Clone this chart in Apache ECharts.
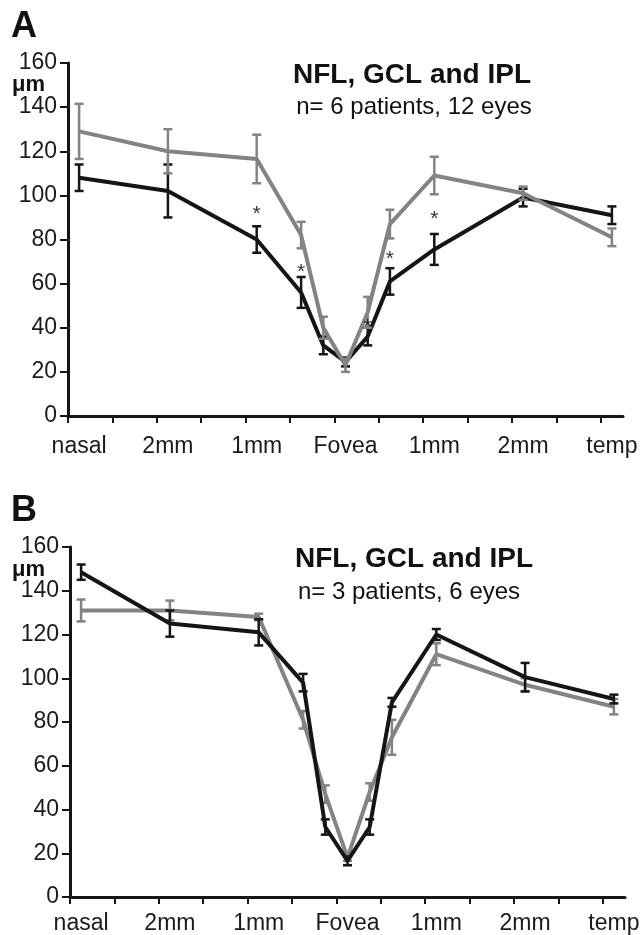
<!DOCTYPE html>
<html>
<head>
<meta charset="utf-8">
<script src="https://cdn.jsdelivr.net/npm/echarts@6/dist/echarts.min.js"></script>
<style>
  html, body { margin: 0; padding: 0; background: #fff; }
  #chart { width: 643px; height: 935px; }
</style>
</head>
<body>
<div id="chart"></div>
<script>
// x positions of the measurement points (in axis steps, nasal = 0, fovea = 6, temp = 12)
const positions = [0, 2, 4, 5, 5.5, 6, 6.5, 7, 8, 10, 12]
const labelPositions = [0, 2, 4, 6, 8, 10, 12]
const labelNames = ['nasal', '2mm', '1mm', 'Fovea', '1mm', '2mm', 'temp']

// panel A: n= 6 patients, 12 eyes
const aBlack = [108, 102, 80, 56, 32, 24.5, 36, 61, 75.5, 99, 91]
const aBlackErr = [6, 12, 6, 7, 4, 2, 4, 6, 7, 4, 4]
const aGray = [129, 120, 116.5, 82, 40, 23, 47, 87, 109, 101, 81]
const aGrayErr = [12.5, 10, 11, 6, 5, 3, 7, 6.5, 8.5, 3, 4]
const aStarIdx = [2, 3, 6, 7, 8]
const aStarY = [94, 68, 43, 74, 92]

// panel B: n= 3 patients, 6 eyes
const bBlack = [148.5, 125, 121, 98, 32, 16.5, 32, 89, 120, 100.5, 90.5]
const bBlackErr = [3.5, 6, 6, 4, 3.5, 2, 3.5, 2, 2.5, 6.5, 2]
const bGray = [131, 131, 128, 81, 47, 18, 48, 73, 111, 97, 87]
const bGrayErr = [5, 4.5, 1.5, 4, 4, 1.5, 4, 8, 5, 3, 3.5]

const BLACK = '#151515'
const GRAY = '#838383'
const FONT = '"Liberation Sans", Arial, sans-serif'

const chart = echarts.init(document.getElementById('chart'))

const tickPositions = Array.from({ length: 13 }, (_, k) => k - 0.25)

const errorBar = (color) => (params, api) => {
  const x = api.value(0)
  const y = api.value(1)
  const e = api.value(2)
  const top = api.coord([x, y + e])
  const bot = api.coord([x, y - e])
  const half = 4.5
  const style = { stroke: color, lineWidth: 2.5, fill: null }
  return {
    type: 'group',
    children: [
      { type: 'line', shape: { x1: top[0], y1: top[1], x2: bot[0], y2: bot[1] }, style },
      { type: 'line', shape: { x1: top[0] - half, y1: top[1], x2: top[0] + half, y2: top[1] }, style },
      { type: 'line', shape: { x1: bot[0] - half, y1: bot[1], x2: bot[0] + half, y2: bot[1] }, style }
    ]
  }
}

const makeXAxis = (gridIndex, margin) => ({
  type: 'value',
  gridIndex,
  min: -0.25,
  max: 12.25,
  splitLine: { show: false },
  axisLine: { onZero: false, lineStyle: { color: BLACK, width: 3 } },
  axisTick: { show: true, length: 7, lineStyle: { color: BLACK, width: 2 }, customValues: tickPositions },
  axisLabel: {
    customValues: labelPositions,
    formatter: (v) => labelNames[labelPositions.indexOf(Math.round(v))],
    fontFamily: FONT,
    fontSize: 23,
    color: '#1a1a1a',
    margin
  }
})

const makeYAxis = (gridIndex) => ({
  type: 'value',
  gridIndex,
  min: 0,
  max: 160,
  interval: 20,
  splitLine: { show: false },
  axisLine: { show: true, onZero: false, lineStyle: { color: BLACK, width: 3 } },
  axisTick: { show: true, length: 8, lineStyle: { color: BLACK, width: 2 } },
  axisLabel: { fontFamily: FONT, fontSize: 23, color: '#1a1a1a', margin: 11 }
})

const lineSeries = (idx, values, color, z) => ({
  type: 'line',
  xAxisIndex: idx,
  yAxisIndex: idx,
  data: positions.map((p, i) => [p, values[i]]),
  symbol: 'none',
  lineStyle: { color, width: 4 },
  z,
  silent: true
})

const barSeries = (idx, values, errs, color, z) => ({
  type: 'custom',
  xAxisIndex: idx,
  yAxisIndex: idx,
  data: positions.map((p, i) => [p, values[i], errs[i]]),
  encode: { x: 0, y: 1 },
  renderItem: errorBar(color),
  z,
  silent: true
})

const starSeries = (idx, ids, ys) => ({
  type: 'scatter',
  xAxisIndex: idx,
  yAxisIndex: idx,
  data: ids.map((k, i) => [positions[k], ys[i]]),
  symbolSize: 0,
  label: {
    show: true,
    position: 'inside',
    formatter: '*',
    fontFamily: FONT,
    fontSize: 21,
    color: '#000',
    offset: [0, 6]
  },
  z: 6,
  silent: true
})

const txt = (x, y, text, size, bold, align) => ({
  type: 'text',
  x,
  y,
  style: {
    text,
    font: (bold ? 'bold ' : '') + size + 'px ' + FONT,
    fill: '#111',
    textAlign: align || 'center',
    textVerticalAlign: 'middle'
  }
})

const option = {
  animation: false,
  backgroundColor: '#fff',
  grid: [
    { left: 68, top: 63, width: 555, height: 353 },
    { left: 70, top: 547, width: 555, height: 353 }
  ],
  xAxis: [makeXAxis(0, 19), makeXAxis(1, 15)],
  yAxis: [makeYAxis(0), makeYAxis(1)],
  graphic: [
    txt(11, 27, 'A', 36, true, 'left'),
    txt(12, 85, 'μm', 22, true, 'left'),
    txt(412, 75, 'NFL, GCL and IPL', 28, true),
    txt(414, 107, 'n= 6 patients, 12 eyes', 24),
    txt(11, 511, 'B', 36, true, 'left'),
    txt(12, 570, 'μm', 22, true, 'left'),
    txt(414, 559, 'NFL, GCL and IPL', 28, true),
    txt(409, 592, 'n= 3 patients, 6 eyes', 24)
  ],
  series: [
    lineSeries(0, aBlack, BLACK, 2),
    barSeries(0, aBlack, aBlackErr, BLACK, 3),
    lineSeries(0, aGray, GRAY, 4),
    barSeries(0, aGray, aGrayErr, GRAY, 5),
    starSeries(0, aStarIdx, aStarY),
    lineSeries(1, bGray, GRAY, 2),
    barSeries(1, bGray, bGrayErr, GRAY, 3),
    lineSeries(1, bBlack, BLACK, 4),
    barSeries(1, bBlack, bBlackErr, BLACK, 5)
  ]
}

chart.setOption(option)
</script>
</body>
</html>
